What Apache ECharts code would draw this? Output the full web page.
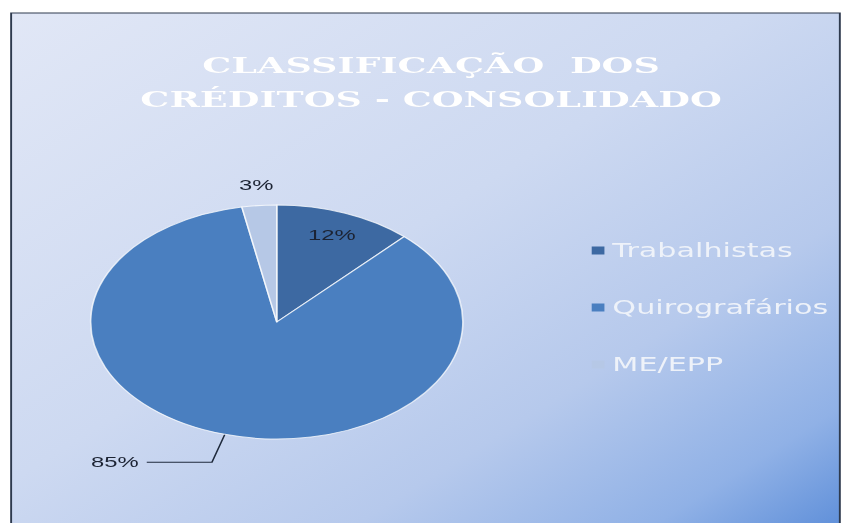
<!DOCTYPE html>
<html>
<head>
<meta charset="utf-8">
<script src="https://cdn.jsdelivr.net/npm/echarts@6/dist/echarts.min.js"></script>
<style>
  html, body { margin: 0; padding: 0; background: #fff; overflow: hidden; }
  /* the reference picture is stretched sideways, so the chart is drawn narrow and scaled */
  #chart {
    width: 530px;
    height: 523px;
    transform: scaleX(1.5906);
    transform-origin: 0 0;
  }
</style>
</head>
<body>
<div id="chart"></div>
<script>
// data
const categories = ['Trabalhistas', 'Quirografários', 'ME/EPP']
const values = [12, 85, 3]
const sliceColors = ['#3d69a2', '#4a7fc0', '#b6c8e6']
const titleText = 'CLASSIFICAÇÃO  DOS\nCRÉDITOS - CONSOLIDADO'

const pieRadius = 117
// where the value labels sit, as a share of the radius (null = leader line)
const labelRadius = [0.78, null, 1.15]

// mid angle of each slice, clockwise from the top
const total = values.reduce((a, b) => a + b, 0)
let acc = 0
const midAngles = values.map(v => {
  const a = (acc + v / 2) / total * Math.PI * 2
  acc += v
  return a
})

var myChart = echarts.init(document.getElementById('chart'), null, { renderer: 'svg' })

myChart.setOption({
  animation: false,
  graphic: [
    {
      type: 'rect',
      z: -10,
      shape: { x: 7, y: 13, width: 521, height: 520 },
      style: {
        fill: new echarts.graphic.LinearGradient(0, 0, 1, 1, [
          { offset: 0, color: '#e1e7f6' },
          { offset: 0.45, color: '#cdd9f1' },
          { offset: 0.7, color: '#b6c9ec' },
          { offset: 0.88, color: '#90b1e6' },
          { offset: 1, color: '#5d8ed9' }
        ]),
        stroke: '#2e3a4e',
        lineWidth: 1.2
      }
    }
  ],
  title: {
    text: titleText,
    left: 271,
    top: 48,
    padding: 0,
    textAlign: 'center',
    textStyle: {
      fontFamily: 'DejaVu Serif',
      fontWeight: 'bold',
      fontSize: 23,
      lineHeight: 34,
      color: '#ffffff',
      textShadowColor: 'rgba(140,155,190,0.35)',
      textShadowBlur: 1
    }
  },
  legend: {
    orient: 'vertical',
    left: 367,
    top: 236,
    itemWidth: 8,
    itemHeight: 8,
    itemGap: 38,
    icon: 'rect',
    data: categories,
    itemStyle: { borderWidth: 0 },
    textStyle: {
      fontFamily: 'DejaVu Sans',
      fontSize: 19,
      color: '#eef2f9'
    }
  },
  series: [
    {
      name: 'Créditos',
      type: 'pie',
      center: [174, 322],
      radius: pieRadius,
      startAngle: 90,
      clockwise: true,
      itemStyle: {
        borderColor: 'rgba(255,255,255,0.75)',
        borderWidth: 1
      },
      label: {
        position: 'outside',
        formatter: '{d}%',
        fontFamily: 'Liberation Sans',
        fontSize: 15,
        color: '#1c2333'
      },
      labelLine: {
        show: true,
        length: 29,
        length2: 41,
        lineStyle: { color: '#1f2a3c', width: 1 }
      },
      labelLayout: function (params) {
        const k = labelRadius[params.dataIndex]
        if (k == null) return {}
        const push = (k - 0.5) * pieRadius
        const a = midAngles[params.dataIndex]
        return { dx: Math.sin(a) * push, dy: -Math.cos(a) * push }
      },
      data: categories.map((name, i) => ({
        name: name,
        value: values[i],
        itemStyle: { color: sliceColors[i] },
        label: labelRadius[i] != null ? { position: 'inside' } : {},
        labelLine: labelRadius[i] != null ? { show: false } : {}
      }))
    }
  ]
})
</script>
</body>
</html>
